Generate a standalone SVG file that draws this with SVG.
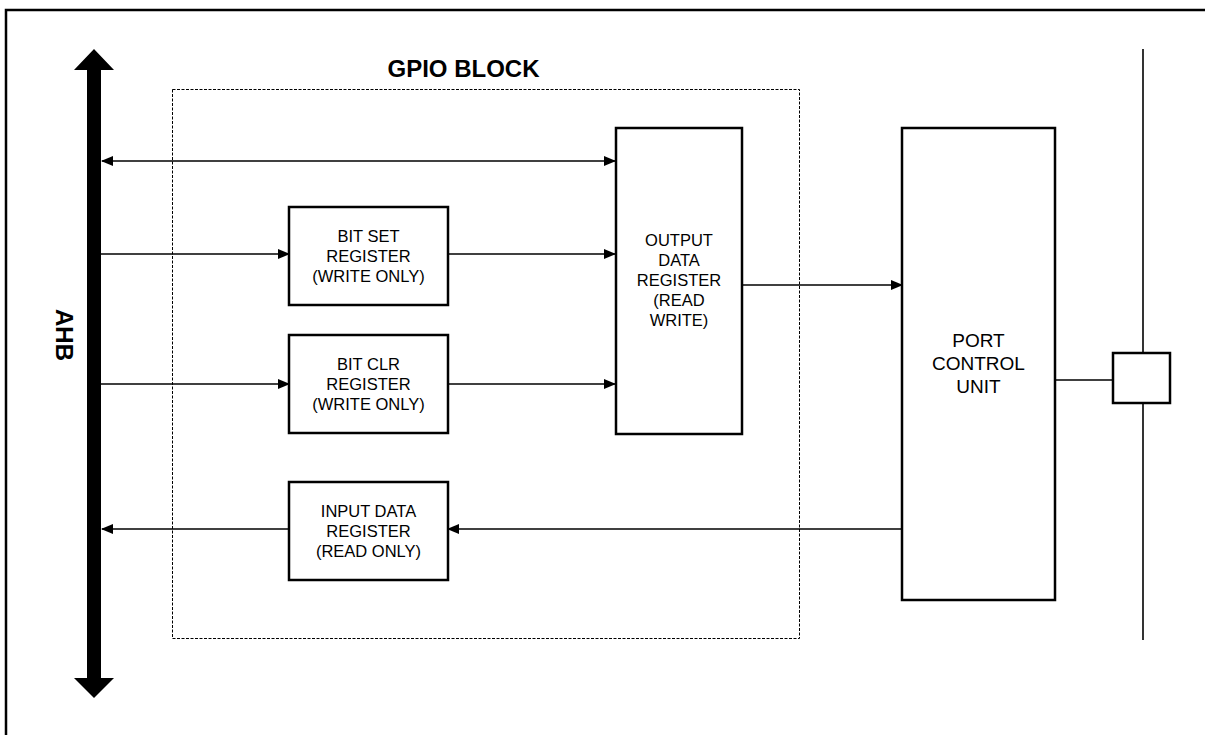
<svg xmlns="http://www.w3.org/2000/svg" width="1205" height="735" viewBox="0 0 1205 735">
<style>
.box{fill:#fff;stroke:#000;stroke-width:2.5}
.ln{fill:none;stroke:#000;stroke-width:1.6}
.t{font-family:"Liberation Sans",Arial,sans-serif;font-size:16.5px;text-anchor:middle;fill:#000}
.tb{font-family:"Liberation Sans",Arial,sans-serif;font-size:24px;font-weight:bold;text-anchor:middle;fill:#000}
</style>
<defs>
<marker id="ah" markerWidth="12" markerHeight="10" refX="11" refY="5" orient="auto-start-reverse" markerUnits="userSpaceOnUse">
<path d="M0,0 L12,5 L0,10 Z" fill="#000"/>
</marker>
</defs>
<rect x="0" y="0" width="1205" height="735" fill="#fff"/>
<path d="M6,735 V10 H1205" fill="none" stroke="#000" stroke-width="2.5"/>

<g id="gpio-block">
<rect x="172.5" y="89.5" width="627" height="549" fill="none" stroke="#000" stroke-width="1" stroke-dasharray="3,1.5"/>
<text class="tb" x="463.5" y="77">GPIO BLOCK</text>
</g>

<g id="ahb">
<polygon points="87,70 74,70 94,49 114,70 101,70 101,678 114,678 94,698 74,678 87,678" fill="#000"/>
<text class="tb" transform="translate(56,335) rotate(90)" x="0" y="0">AHB</text>
</g>

<g id="connectors">
<line class="ln" x1="102" y1="161" x2="615" y2="161" marker-start="url(#ah)" marker-end="url(#ah)"/>
<line class="ln" x1="101" y1="254" x2="289" y2="254" marker-end="url(#ah)"/>
<line class="ln" x1="448" y1="254" x2="615" y2="254" marker-end="url(#ah)"/>
<line class="ln" x1="101" y1="384" x2="289" y2="384" marker-end="url(#ah)"/>
<line class="ln" x1="448" y1="384" x2="615" y2="384" marker-end="url(#ah)"/>
<line class="ln" x1="742" y1="285" x2="902" y2="285" marker-end="url(#ah)"/>
<line class="ln" x1="902" y1="529" x2="448" y2="529" marker-end="url(#ah)"/>
<line class="ln" x1="289" y1="529" x2="102" y2="529" marker-end="url(#ah)"/>
<line class="ln" x1="1055" y1="380" x2="1113" y2="380"/>
<line class="ln" x1="1143" y1="49" x2="1143" y2="353"/>
<line class="ln" x1="1143" y1="403" x2="1143" y2="640"/>
</g>

<g id="bit-set">
<rect class="box" x="289" y="207" width="159" height="98"/>
<text class="t" x="368.5" y="242">BIT SET</text>
<text class="t" x="368.5" y="262">REGISTER</text>
<text class="t" x="368.5" y="282">(WRITE ONLY)</text>
</g>

<g id="bit-clr">
<rect class="box" x="289" y="335" width="159" height="98"/>
<text class="t" x="368.5" y="370">BIT CLR</text>
<text class="t" x="368.5" y="390">REGISTER</text>
<text class="t" x="368.5" y="410">(WRITE ONLY)</text>
</g>

<g id="input-data">
<rect class="box" x="289" y="482" width="159" height="98"/>
<text class="t" x="368.5" y="517">INPUT DATA</text>
<text class="t" x="368.5" y="537">REGISTER</text>
<text class="t" x="368.5" y="557">(READ ONLY)</text>
</g>

<g id="output-data">
<rect class="box" x="616" y="128" width="126" height="306"/>
<text class="t" x="679" y="246">OUTPUT</text>
<text class="t" x="679" y="266">DATA</text>
<text class="t" x="679" y="286">REGISTER</text>
<text class="t" x="679" y="306">(READ</text>
<text class="t" x="679" y="326">WRITE)</text>
</g>

<g id="port-control">
<rect class="box" x="902" y="128" width="153" height="472"/>
<text class="t" style="font-size:19px" x="978.5" y="347">PORT</text>
<text class="t" style="font-size:19px" x="978.5" y="370">CONTROL</text>
<text class="t" style="font-size:19px" x="978.5" y="393">UNIT</text>
</g>

<g id="pin">
<rect class="box" x="1113" y="353" width="57" height="50"/>
</g>
</svg>
